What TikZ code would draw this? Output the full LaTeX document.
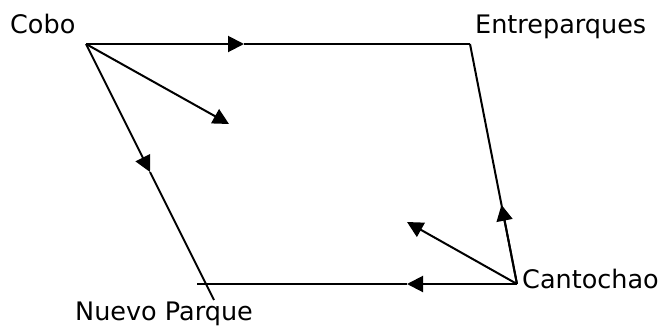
\documentclass[tikz,border=0pt]{standalone}
\usepackage{fontspec}
\setmainfont{DejaVu Sans}
\usetikzlibrary{arrows.meta,calc}
\begin{document}
\begin{tikzpicture}[x=1pt,y=-1pt,
  edge/.style={line width=2pt},
  arr/.style={line width=2pt,-{Triangle[length=16pt,width=16pt]}},
  lbl/.style={anchor=base west,inner sep=0pt,font=\fontsize{25.5}{30}\selectfont}]
\useasboundingbox (0,0) rectangle (664,327);
\coordinate (cobo) at (86,44);
\coordinate (entre) at (470,44);
\coordinate (canto) at (517,284);
\coordinate (nuevo) at (214,300);
\coordinate (bl) at (197,284);
\coordinate (m1) at (244,44);
\coordinate (m2) at ($(cobo)!0.5!(nuevo)$);
\coordinate (m3) at (229,124);
\coordinate (m4) at ($(canto)!0.33!(entre)$);
\coordinate (m5) at (407,222);
\coordinate (m6) at (407,284);
\node[lbl] (tcobo) at (10,33) {Cobo};
\node[lbl] (tentre) at (475,33) {Entreparques};
\node[lbl] (tcanto) at (522,288) {Cantochao};
\node[lbl] (tnuevo) at (75,320) {Nuevo Parque};
\draw[arr] (cobo) -- (m1);
\draw[edge] (m1) -- (entre);
\draw[edge] (entre) -- (canto);
\draw[arr] (canto) -- (m4);
\draw[arr] (cobo) -- (m2);
\draw[edge] (m2) -- (nuevo);
\draw[arr] (cobo) -- (m3);
\draw[arr] (canto) -- (m5);
\draw[arr] (canto) -- (m6);
\draw[edge] (m6) -- (bl);
\end{tikzpicture}
\end{document}
